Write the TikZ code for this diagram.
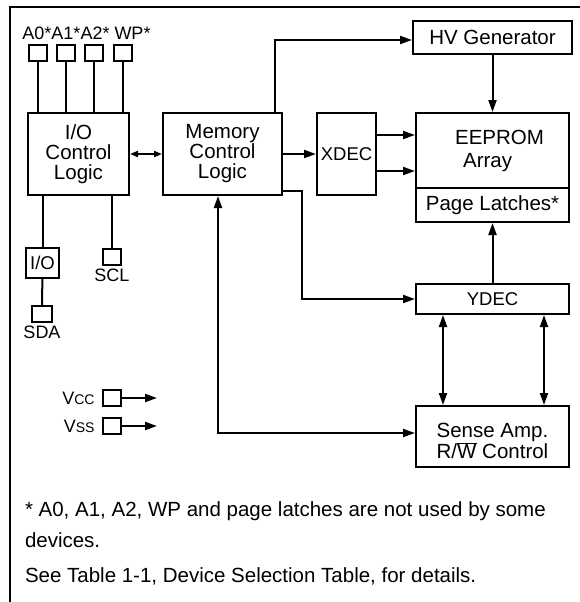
\documentclass[tikz,border=0pt]{standalone}
\usepackage{fontspec}
\setmainfont{Liberation Sans}
\tikzset{
every picture/.style={
line width=2pt
}}
\usetikzlibrary{arrows.meta,
                positioning}

\begin{document}
\begin{tikzpicture}[
    x=1pt, y=-1pt,
    font=\fontsize{20.5}{20}\selectfont,
     block/.style = {draw, rectangle, inner sep=0pt, align=center},
       pad/.style = {draw, rectangle, inner sep=0pt,
                     minimum width=18pt, minimum height=16pt},
       txt/.style = {inner sep=0pt, align=center, font=\fontsize{18}{18}\selectfont},
      note/.style = {inner sep=0pt, anchor=west},
     small/.style = {font=\fontsize{18.5}{18}\selectfont},
    >={Triangle[length=12pt, width=8pt]}
                    ]
\useasboundingbox (0,0) rectangle (580,602);
\draw (10,602) -- (10,7) -- (580,7);
% pins on top
\node [txt] (pinlbl) at (86.5,33) {A0*A1*A2* WP*};
\foreach \n/\x in {A0/38.3, A1/66, A2/94, WP/123}
    \node [pad] (pin\n) at (\x,53) {};
% blocks
\node [block, minimum width=101pt, minimum height=82pt] (ioctl) at (78.5,154) {I/O\\Control\\Logic};
\node [block, minimum width=119pt, minimum height=82pt] (mem) at (222.5,154) {Memory\\Control\\Logic};
\node [block, small, minimum width=59pt, minimum height=82pt] (xdec) at (346.5,154) {XDEC};
\node [block, minimum width=159pt, minimum height=33pt] (hv) at (492.5,37.5) {HV Generator};
\node [block, minimum width=153pt, minimum height=75pt] (eeprom) at (492.5,150.5) {};
\node [txt, align=left, font=\fontsize{20.5}{23}\selectfont] (eepromtxt) at (499.5,151)
      {EEPROM\\\hspace*{8pt}Array};
\node [block, minimum width=153pt, minimum height=34pt] (latch) at (492.5,205) {Page Latches*};
\node [block, small, minimum width=153pt, minimum height=30pt] (ydec) at (492.5,299) {YDEC};
\node [block, minimum width=153pt, minimum height=61pt] (sense) at (492.5,436.5) {};
\node [txt, font=\fontsize{20.5}{21}\selectfont] (sensetxt) at (492.5,441)
      {Sense Amp.\\R/$\overline{\hbox{W}}$ Control};
% serial side
\node [block, small, minimum width=33pt, minimum height=30pt] (ioport) at (42.5,263) {I/O};
\node [pad, minimum width=20pt] (sda) at (42,314) {};
\node [txt, below=2pt of sda] (sdalbl) {SDA};
\node [pad] (scl) at (112,257) {};
\node [txt, below=2pt of scl] (scllbl) {SCL};
% supply
\node [pad] (vcc) at (111.5,398) {};
\node [txt, left=6pt of vcc] (vcclbl) {V{\fontsize{14}{14}\selectfont CC}};
\coordinate (vccend) at (157,398);
\node [pad] (vss) at (111.5,426) {};
\node [txt, left=6pt of vss] (vsslbl) {V{\fontsize{14}{14}\selectfont SS}};
\coordinate (vssend) at (157,426);
% footnote
\node [note] (note1) at (24,511) {* A0, A1, A2, WP and page latches are not used by some};
\node [note] (note2) at (24,540) {devices.};
\node [note] (note3) at (24,576) {See Table 1-1, Device Selection Table, for details.};
%%
\foreach \n in {A0, A1, A2, WP}
    \draw (pin\n.south) -- (pin\n.south |- ioctl.north);
\draw (ioport.north) -- (ioport.north |- ioctl.south);
\draw (ioport) -- (sda);
\draw (scl.north) -- (scl.north |- ioctl.south);
\draw [{Triangle[length=8pt,width=6pt]}-{Triangle[length=8pt,width=6pt]}] (ioctl) -- (mem);
\draw [->] ([xshift=-8pt]mem.north east) |- ([yshift=-2.5pt]hv.west);
\draw [->] (mem) -- (xdec);
\draw [->] ([yshift=19pt]xdec.east) -- ([yshift=15.5pt]eeprom.west);
\draw [->] ([yshift=-17pt]xdec.east) -- ([yshift=-20.5pt]eeprom.west);
\draw [->] (hv) -- (eeprom);
\draw [->] ([yshift=5pt]mem.south east) -- ++(19,0) |- (ydec.west);
\draw [->] (ydec) -- (latch);
\draw [<->] ([xshift=-49.5pt]ydec.south) -- ([xshift=-49.5pt]sense.north);
\draw [<->] ([xshift=51.5pt]ydec.south) -- ([xshift=51.5pt]sense.north);
\draw [<->] ([xshift=-4.5pt]mem.south) |- ([yshift=3.5pt]sense.west);
\draw [->] (vcc) -- (vccend);
\draw [->] (vss) -- (vssend);
  \end{tikzpicture}
\end{document}
